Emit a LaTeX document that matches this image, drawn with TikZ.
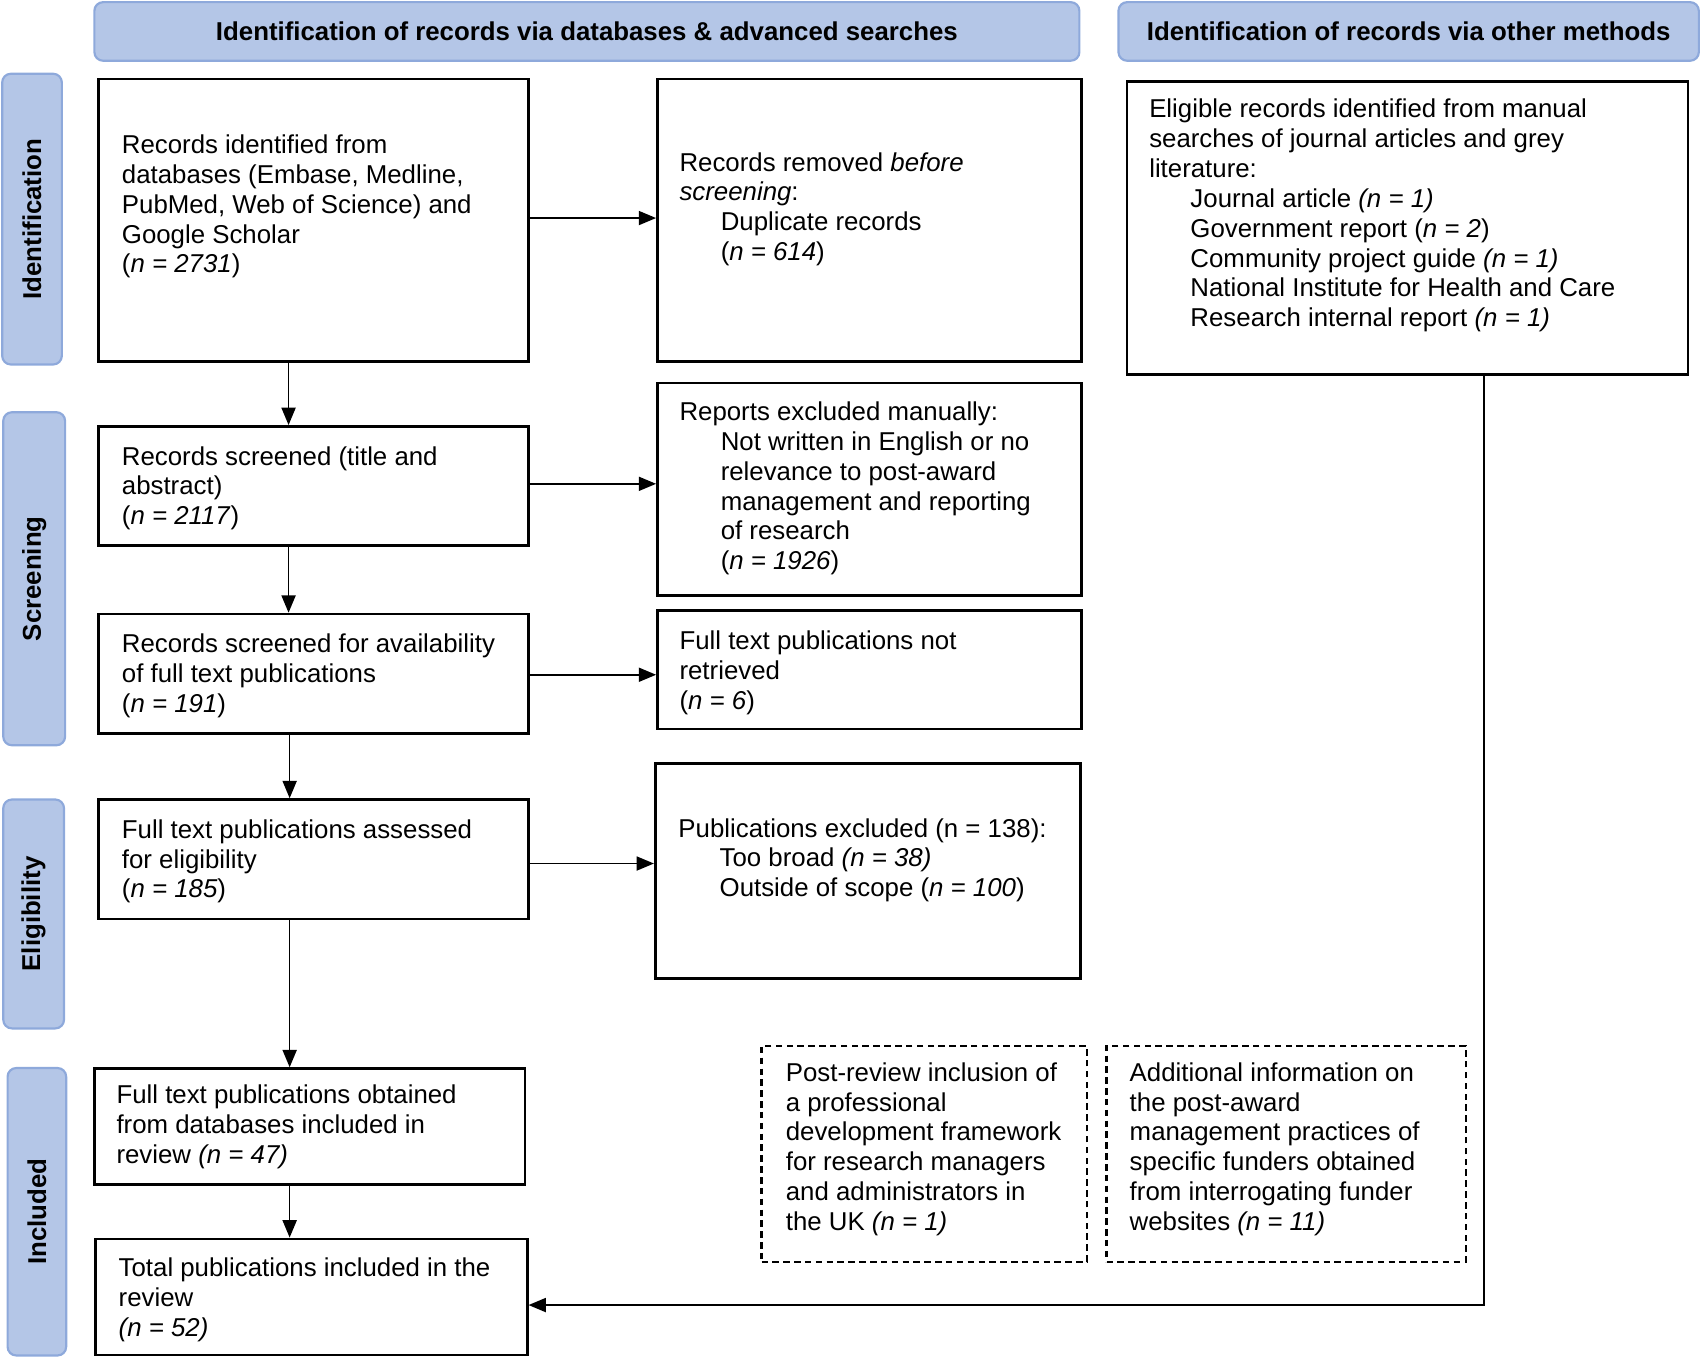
\documentclass[tikz,border=0pt]{standalone}
\usepackage{fontspec}
\setmainfont{Liberation Sans}
\usetikzlibrary{arrows.meta}
\definecolor{hdrfill}{HTML}{B4C6E7}
\definecolor{hdrdraw}{HTML}{8EA9DB}
\newcommand{\dgfs}{\fontsize{11.9}{13.75}\selectfont}
\newcommand{\ind}{\hspace*{19pt}}
\begin{document}
\begin{tikzpicture}[x=0.5pt,y=-0.5pt,
  hdr/.style={draw=hdrdraw, fill=hdrfill, line width=1pt, rounded corners=4pt, inner sep=0pt, font=\bfseries\dgfs},
  side/.style={hdr, rotate=90},
  box/.style={draw=black, line width=1.2pt, inner sep=0pt},
  dbox/.style={draw=black, line width=1pt, dash pattern=on 3pt off 2pt, inner sep=0pt},
  txt/.style={anchor=north west, inner sep=0pt, align=left, font=\dgfs},
  arr/.style={line width=0.75pt, -{Triangle[length=8pt,width=6.5pt]}}
]
\useasboundingbox (0,0) rectangle (1568,1251);

% headers
\node[hdr, minimum width=454pt, minimum height=27pt] (h1) at (541,29) {Identification of records via databases \& advanced searches};
\node[hdr, minimum width=267.5pt, minimum height=27pt] (h2) at (1298.5,29) {Identification of records via other methods};

% side bars
\node[side, minimum width=134pt, minimum height=27.5pt] (s1) at (29.5,202) {Identification};
\node[side, minimum width=153.5pt, minimum height=28.5pt] (s2) at (31.5,533.5) {Screening};
\node[side, minimum width=105.5pt, minimum height=28pt] (s3) at (31,842.5) {Eligibility};
\node[side, minimum width=132.5pt, minimum height=27pt] (s4) at (34,1117) {Included};

% boxes
\node[box, minimum width=198pt, minimum height=130pt] (b1) at (289,203) {};
\node[box, minimum width=195.5pt, minimum height=130pt] (b2) at (801.5,203) {};
\node[box, minimum width=258.5pt, minimum height=135pt] (b3) at (1297.5,210) {};
\node[box, minimum width=198pt, minimum height=55pt] (b4) at (289,448) {};
\node[box, minimum width=195.5pt, minimum height=98pt] (b5) at (801.5,451) {};
\node[box, minimum width=198pt, minimum height=55pt] (b6) at (289,621) {};
\node[box, minimum width=195.5pt, minimum height=54.5pt] (b7) at (801.5,617.5) {};
\node[box, minimum width=198pt, minimum height=55pt] (b8) at (289,792) {};
\node[box, minimum width=196pt, minimum height=99pt] (b9) at (800,803) {};
\node[box, minimum width=198.5pt, minimum height=53.5pt] (b10) at (285.5,1038.5) {};
\node[box, minimum width=199pt, minimum height=53.5pt] (b11) at (287,1195.5) {};
\node[dbox, minimum width=150pt, minimum height=99.5pt] (d1) at (852,1063.5) {};
\node[dbox, minimum width=165.5pt, minimum height=99.5pt] (d2) at (1185.5,1063.5) {};

% texts
\node[txt] (t1) at (112,122) {\strut Records identified from\\databases (Embase, Medline,\\PubMed, Web of Science) and\\Google Scholar\\(\textit{n = 2731})};
\node[txt] (t2) at (626,138) {\strut Records removed \textit{before}\\\textit{screening}:\\\ind Duplicate records\\\ind(\textit{n = 614})};
\node[txt] (t3) at (1059,89) {\strut Eligible records identified from manual\\searches of journal articles and grey\\literature:\\\ind Journal article \textit{(n = 1)}\\\ind Government report (\textit{n = 2})\\\ind Community project guide \textit{(n = 1)}\\\ind National Institute for Health and Care\\\ind Research internal report \textit{(n = 1)}};
\node[txt] (t4) at (112,409) {\strut Records screened (title and\\abstract)\\(\textit{n = 2117})};
\node[txt] (t5) at (626,368) {\strut Reports excluded manually:\\\ind Not written in English or no\\\ind relevance to post-award\\\ind management and reporting\\\ind of research\\\ind(\textit{n = 1926})};
\node[txt] (t6) at (112,582) {\strut Records screened for availability\\of full text publications\\(\textit{n = 191})};
\node[txt] (t7) at (626,579) {\strut Full text publications not\\retrieved\\(\textit{n = 6})};
\node[txt] (t8) at (112,753) {\strut Full text publications assessed\\for eligibility\\(\textit{n = 185})};
\node[txt] (t9) at (625,752) {\strut Publications excluded (n = 138):\\\ind Too broad \textit{(n = 38)}\\\ind Outside of scope (\textit{n = 100})};
\node[txt] (t10) at (107,998) {\strut Full text publications obtained\\from databases included in\\review \textit{(n = 47)}};
\node[txt] (t11) at (109,1157) {\strut Total publications included in the\\review\\\textit{(n = 52)}};
\node[txt] (t12) at (724,977) {\strut Post-review inclusion of\\a professional\\development framework\\for research managers\\and administrators in\\the UK \textit{(n = 1)}};
\node[txt] (t13) at (1041,977) {\strut Additional information on\\the post-award\\management practices of\\specific funders obtained\\from interrogating funder\\websites \textit{(n = 11)}};

% connectors
\coordinate (c1) at (266,0);
\coordinate (c2) at (267,0);
\coordinate (turn) at (1368,1203);
\draw[arr] (b1.east |- 0,201) -- (b2.west |- 0,201);
\draw[arr] (b4.east |- 0,446) -- (b5.west |- 0,446);
\draw[arr] (b6.east |- 0,622) -- (b7.west |- 0,622);
\draw[arr] (b8.east |- 0,796) -- (b9.west |- 0,796);
\draw[arr] (b1.south -| c1) -- (b4.north -| c1);
\draw[arr] (b4.south -| c1) -- (b6.north -| c1);
\draw[arr] (b6.south -| c2) -- (b8.north -| c2);
\draw[arr] (b8.south -| c2) -- (b10.north -| c2);
\draw[arr] (b10.south -| c2) -- (b11.north -| c2);
\draw[arr] (b3.south -| turn) -- (turn) -- (turn -| b11.east);
\end{tikzpicture}
\end{document}
